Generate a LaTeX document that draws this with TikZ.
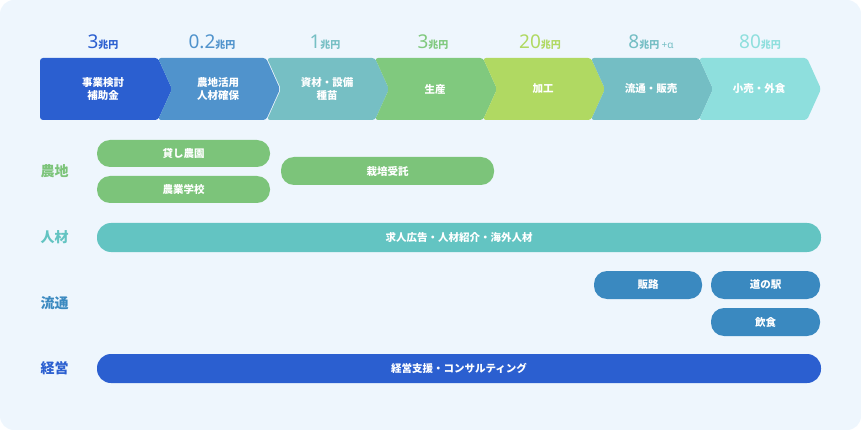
\documentclass[tikz,border=0pt]{standalone}
\usepackage{fontspec}
\setmainfont{Noto Sans CJK JP}
\newfontfamily\numfont{Noto Sans}
\definecolor{bg}{HTML}{EEF6FD}
\definecolor{c1}{HTML}{2B5FD0}
\definecolor{c2}{HTML}{5093CC}
\definecolor{c3}{HTML}{76BFC4}
\definecolor{c4}{HTML}{80C97E}
\definecolor{c5}{HTML}{B0D962}
\definecolor{c6}{HTML}{74BEC4}
\definecolor{c7}{HTML}{8EDFDD}
\definecolor{pg}{HTML}{7CC47A}
\definecolor{pt}{HTML}{63C4C2}
\definecolor{pb}{HTML}{3A89C0}
\begin{document}
\begin{tikzpicture}[x=1pt,y=-1pt,
  pill/.style={rounded corners=9pt,inner sep=0pt,text=white,font=\bfseries\fontsize{10.5}{12}\selectfont},
  ptxt/.style={text=white,font=\bfseries\fontsize{10.5}{13}\selectfont,align=center},
  rowlbl/.style={font=\bfseries\fontsize{14}{16}\selectfont,anchor=west},
  amt/.style={font=\bfseries,anchor=base}]
\useasboundingbox (0,0) rectangle (861,430);
\fill[bg,rounded corners=14pt] (0,0) rectangle (861,430);
% chevrons
\def\yt{58}\def\yb{120}\def\ym{89}
\fill[c1,rounded corners=3pt] (40,\yt) -- (158,\yt) -- (172,\ym) -- (158,\yb) -- (40,\yb) -- cycle;
\foreach \s/\c [count=\i] in {158/c2,267/c3,375/c4,483/c5,591/c6,699/c7}{
  \fill[\c,rounded corners=3pt] (\s,\yt) -- (\s+108,\yt) -- (\s+122,\ym) -- (\s+108,\yb) -- (\s,\yb) -- (\s+14,\ym) -- cycle;
}
\node[ptxt] (s1) at (103,89) {事業検討\\補助金};
\node[ptxt] (s2) at (218,89) {農地活用\\人材確保};
\node[ptxt] (s3) at (327,89) {資材・設備\\種苗};
\node[ptxt] (s4) at (435,89) {生産};
\node[ptxt] (s5) at (543,89) {加工};
\node[ptxt] (s6) at (651,89) {流通・販売};
\node[ptxt] (s7) at (759,89) {小売・外食};
% amounts
\node[text=c1] (a1) at (103,42) {{\numfont\bfseries\fontsize{19}{20}\selectfont 3}{\bfseries\fontsize{10}{12}\selectfont 兆円}};
\node[text=c2] (a2) at (212,42) {{\numfont\bfseries\fontsize{19}{20}\selectfont 0.2}{\bfseries\fontsize{10}{12}\selectfont 兆円}};
\node[text=c3] (a3) at (325,42) {{\numfont\bfseries\fontsize{19}{20}\selectfont 1}{\bfseries\fontsize{10}{12}\selectfont 兆円}};
\node[text=c4] (a4) at (433,42) {{\numfont\bfseries\fontsize{19}{20}\selectfont 3}{\bfseries\fontsize{10}{12}\selectfont 兆円}};
\node[text=c5] (a5) at (540,42) {{\numfont\bfseries\fontsize{19}{20}\selectfont 20}{\bfseries\fontsize{10}{12}\selectfont 兆円}};
\node[text=c6] (a6) at (651,42) {{\numfont\bfseries\fontsize{19}{20}\selectfont 8}{\bfseries\fontsize{10}{12}\selectfont 兆円 {\numfont +α}}};
\node[text=c7] (a7) at (760,42) {{\numfont\bfseries\fontsize{19}{20}\selectfont 80}{\bfseries\fontsize{10}{12}\selectfont 兆円}};
% row labels
\node[rowlbl,text=pg] (r1) at (37,171) {農地};
\node[rowlbl,text=pt] (r2) at (37,237) {人材};
\node[rowlbl,text=pb] (r3) at (37,303) {流通};
\node[rowlbl,text=c1] (r4) at (37,368) {経営};
% pills
\fill[pg,rounded corners=13pt] (97,140) rectangle (270,167);
\node[pill] (p1) at (183.5,153.5) {貸し農園};
\fill[pg,rounded corners=13pt] (97,176) rectangle (270,203);
\node[pill] (p2) at (183.5,189.5) {農業学校};
\fill[pg,rounded corners=13pt] (281,157) rectangle (494,185);
\node[pill] (p3) at (387.5,171) {栽培受託};
\fill[pt,rounded corners=14pt] (97,223) rectangle (821,252);
\node[pill] (p4) at (459,237.5) {求人広告・人材紹介・海外人材};
\fill[pb,rounded corners=13pt] (594,271) rectangle (702,299);
\node[pill] (p5) at (648,285) {販路};
\fill[pb,rounded corners=13pt] (711,271) rectangle (820,299);
\node[pill] (p6) at (765.5,285) {道の駅};
\fill[pb,rounded corners=13pt] (711,308) rectangle (820,336);
\node[pill] (p7) at (765.5,322) {飲食};
\fill[c1,rounded corners=14pt] (97,354) rectangle (821,383);
\node[pill] (p8) at (459,368.5) {経営支援・コンサルティング};
\end{tikzpicture}
\end{document}
